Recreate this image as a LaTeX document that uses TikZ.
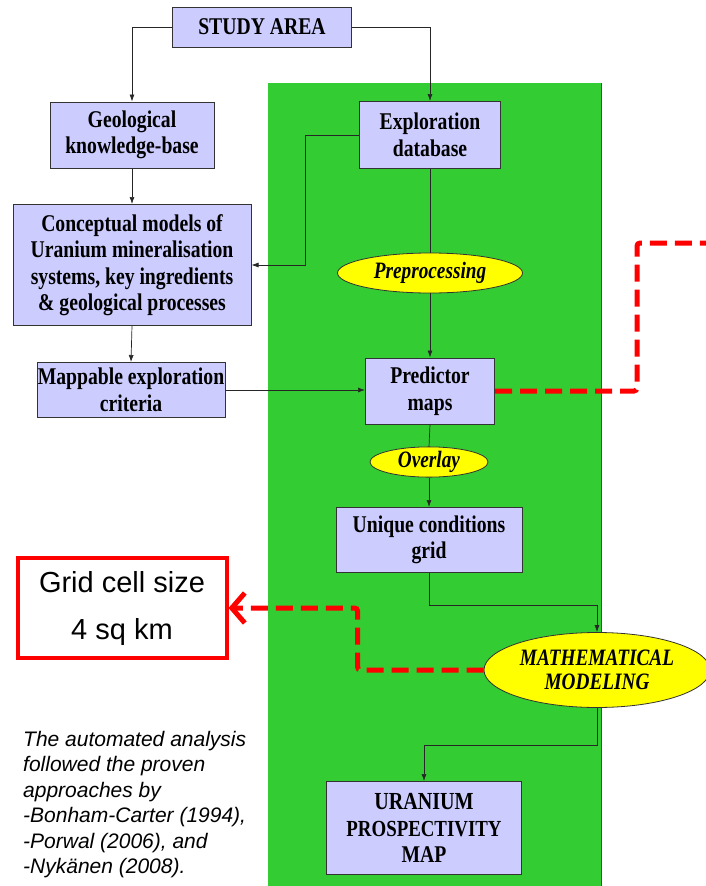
\documentclass[tikz,border=0pt]{standalone}
\usepackage{fontspec}
\setmainfont{Liberation Serif}
\newfontfamily\boxfont{Liberation Serif}[FakeStretch=0.82]
\newfontfamily\notefont{Liberation Sans}
\usetikzlibrary{shapes.geometric,arrows.meta}
\definecolor{boxblue}{RGB}{204,204,255}
\definecolor{areagreen}{RGB}{51,204,51}
\definecolor{ovalyellow}{RGB}{255,255,0}

\begin{document}
\begin{tikzpicture}[x=1pt,y=-1pt,
    box/.style={draw=black!80,line width=1pt,fill=boxblue,align=center,inner sep=0pt,
        font=\boxfont\bfseries\fontsize{24}{26.5}\selectfont},
    oval/.style={ellipse,draw=black!80,line width=0.8pt,fill=ovalyellow,inner sep=0pt,align=center,
        font=\boxfont\bfseries\itshape\fontsize{23.5}{24}\selectfont},
    link/.style={draw=black!85,line width=0.7pt},
    arr/.style={link,-{Latex[length=7pt,width=5pt]}},
    reddash/.style={draw=red,line width=5pt,dash pattern=on 17pt off 8pt,rounded corners=3pt}]
    \useasboundingbox (0,0) rectangle (706,886);
    \fill[areagreen] (268,83) rectangle (601,886);
    \draw[black!70,line width=0.6pt] (601,83) -- (601,886);

    \node[box,minimum width=179pt,minimum height=40pt] (study) at (262,27) {STUDY AREA};
    \node[box,minimum width=164pt,minimum height=66pt] (geo) at (132,135) {Geological\\knowledge-base};
    \node[box,minimum width=141pt,minimum height=67pt] (expl) at (430,135) {Exploration\\database};
    \node[box,minimum width=238pt,minimum height=121pt] (concept) at (132,265)
        {Conceptual models of\\Uranium mineralisation\\systems, key ingredients\\\& geological processes};
    \node[oval,minimum width=185pt,minimum height=40pt] (prep) at (430,273) {Preprocessing};
    \node[box,minimum width=188pt,minimum height=55pt] (mapp) at (131,390) {Mappable exploration\\criteria};
    \node[box,minimum width=129pt,minimum height=66pt] (pred) at (430,391) {Predictor\\maps};
    \node[oval,minimum width=118pt,minimum height=26pt] (overlay) at (429,462) {Overlay};
    \node[box,minimum width=186pt,minimum height=65pt] (unique) at (429,540) {Unique conditions\\grid};
    \node[oval,minimum width=226pt,minimum height=75pt] (math) at (597,670) {MATHEMATICAL\\MODELING};
    \node[box,minimum width=195pt,minimum height=93pt] (uran) at (424,828)
        {\fontsize{24.5}{25}\selectfont URANIUM\\{\fontsize{23}{25}\selectfont PROSPECTIVITY}\\MAP};
    \node[draw=red,line width=4pt,minimum width=209pt,minimum height=100pt,align=center,
        font=\notefont\fontsize{29}{47}\selectfont] (grid) at (122,608) {Grid cell size\\4 sq km};
    \node[anchor=north west,align=left,inner sep=0pt,
        font=\notefont\itshape\fontsize{21}{25.5}\selectfont] (note) at (23,731)
        {The automated analysis\\followed the proven\\approaches by\\-Bonham-Carter (1994),\\-Porwal (2006), and\\-Nykänen (2008).};

    \draw[arr] (study.west) -| (geo.north);
    \draw[arr] (study.east) -| (expl.north);
    \draw[arr] (geo.south) -- (concept.north);
    \draw[arr] (expl.west) -- ++(-54,0) |- (concept.east);
    \draw[link] (expl.south) -- (prep.north);
    \draw[arr] (prep.south) -- (pred.north);
    \draw[arr] (concept.south) -- (mapp.north);
    \draw[arr] (mapp.east) -- (mapp.east -| pred.west);
    \draw[link] (pred.south) -- (overlay.north);
    \draw[arr] (overlay.south) -- (unique.north);
    \draw[arr] (unique.south) -- ++(0,32) -| (math.north);
    \draw[arr] (math.south) -- ++(0,37) -| (uran.north);

    \coordinate (edge) at (720,243);
    \draw[reddash] (pred.east) -- ++(142,0) |- (edge);
    \draw[reddash,-{Straight Barb[length=13pt,width=30pt]}] (math.west) -- ++(-126,0) |- (grid.east);
\end{tikzpicture}
\end{document}
